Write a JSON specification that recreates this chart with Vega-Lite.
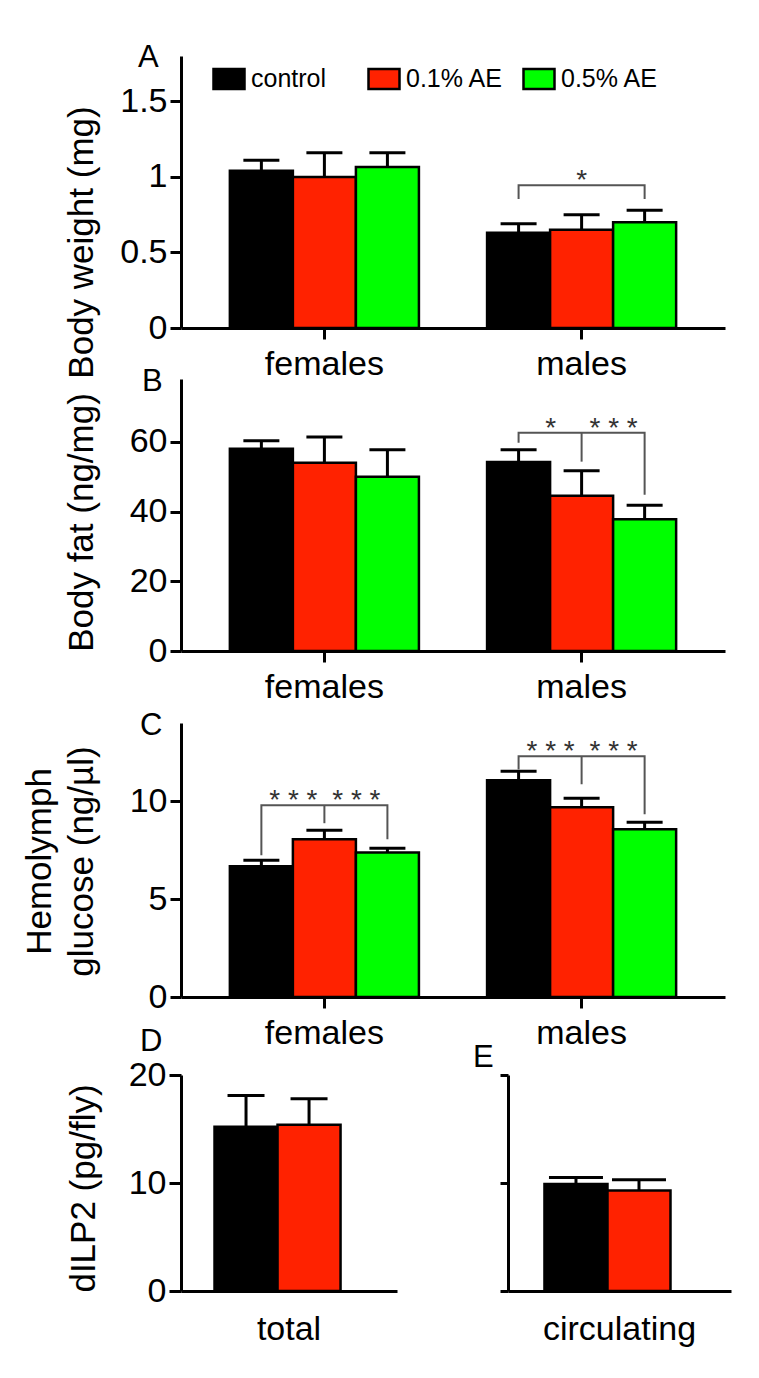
{
  "$schema": "https://vega.github.io/schema/vega-lite/v6.json",
  "background": "white",
  "padding": {"left": 22, "top": 42, "right": 5, "bottom": 5},
  "datasets": {
    "A": [
      {"sex": "females", "group": "control", "mean": 1.04, "upper": 1.11},
      {"sex": "females", "group": "0.1% AE", "mean": 1.0, "upper": 1.16},
      {"sex": "females", "group": "0.5% AE", "mean": 1.065, "upper": 1.16},
      {"sex": "males", "group": "control", "mean": 0.63, "upper": 0.69},
      {"sex": "males", "group": "0.1% AE", "mean": 0.65, "upper": 0.75},
      {"sex": "males", "group": "0.5% AE", "mean": 0.7, "upper": 0.78}
    ],
    "A_br": [
      {"sex": "males", "group": "control", "y": 0.853, "id": 1, "seq": 1},
      {"sex": "males", "group": "control", "y": 0.945, "id": 1, "seq": 2},
      {"sex": "males", "group": "0.5% AE", "y": 0.945, "id": 1, "seq": 3},
      {"sex": "males", "group": "0.5% AE", "y": 0.853, "id": 1, "seq": 4}
    ],
    "A_st": [{"sex": "males", "group": "0.1% AE", "y": 0.945, "label": "*"}],
    "B": [
      {"sex": "females", "group": "control", "mean": 58, "upper": 60.3},
      {"sex": "females", "group": "0.1% AE", "mean": 54, "upper": 61.4},
      {"sex": "females", "group": "0.5% AE", "mean": 50, "upper": 57.7},
      {"sex": "males", "group": "control", "mean": 54.2, "upper": 57.7},
      {"sex": "males", "group": "0.1% AE", "mean": 44.5, "upper": 51.7},
      {"sex": "males", "group": "0.5% AE", "mean": 37.8, "upper": 41.8}
    ],
    "B_br": [
      {"sex": "males", "group": "control", "y": 59.7, "id": 1, "seq": 1},
      {"sex": "males", "group": "control", "y": 62.6, "id": 1, "seq": 2},
      {"sex": "males", "group": "0.5% AE", "y": 62.6, "id": 1, "seq": 3},
      {"sex": "males", "group": "0.5% AE", "y": 44.8, "id": 1, "seq": 4},
      {"sex": "males", "group": "0.1% AE", "y": 62.6, "id": 2, "seq": 1},
      {"sex": "males", "group": "0.1% AE", "y": 54.3, "id": 2, "seq": 2}
    ],
    "B_st": [
      {"sex": "males", "group": "control", "y": 62.6, "label": "*"},
      {"sex": "males", "group": "0.1% AE", "y": 62.6, "label": "* * *"}
    ],
    "C": [
      {"sex": "females", "group": "control", "mean": 6.68, "upper": 6.99},
      {"sex": "females", "group": "0.1% AE", "mean": 8.06, "upper": 8.52},
      {"sex": "females", "group": "0.5% AE", "mean": 7.38, "upper": 7.6},
      {"sex": "males", "group": "control", "mean": 11.07, "upper": 11.53},
      {"sex": "males", "group": "0.1% AE", "mean": 9.69, "upper": 10.15},
      {"sex": "males", "group": "0.5% AE", "mean": 8.57, "upper": 8.93}
    ],
    "C_br": [
      {"sex": "females", "group": "control", "y": 7.24, "id": 1, "seq": 1},
      {"sex": "females", "group": "control", "y": 9.8, "id": 1, "seq": 2},
      {"sex": "females", "group": "0.5% AE", "y": 9.8, "id": 1, "seq": 3},
      {"sex": "females", "group": "0.5% AE", "y": 8.06, "id": 1, "seq": 4},
      {"sex": "females", "group": "0.1% AE", "y": 9.8, "id": 2, "seq": 1},
      {"sex": "females", "group": "0.1% AE", "y": 8.88, "id": 2, "seq": 2},
      {"sex": "males", "group": "control", "y": 11.63, "id": 3, "seq": 1},
      {"sex": "males", "group": "control", "y": 12.3, "id": 3, "seq": 2},
      {"sex": "males", "group": "0.5% AE", "y": 12.3, "id": 3, "seq": 3},
      {"sex": "males", "group": "0.5% AE", "y": 9.34, "id": 3, "seq": 4},
      {"sex": "males", "group": "0.1% AE", "y": 12.3, "id": 4, "seq": 1},
      {"sex": "males", "group": "0.1% AE", "y": 10.87, "id": 4, "seq": 2}
    ],
    "C_st": [
      {"sex": "females", "group": "control", "y": 9.8, "label": "* * *"},
      {"sex": "females", "group": "0.1% AE", "y": 9.8, "label": "* * *"},
      {"sex": "males", "group": "control", "y": 12.3, "label": "* * *"},
      {"sex": "males", "group": "0.1% AE", "y": 12.3, "label": "* * *"}
    ],
    "D": [
      {"sample": "total", "group": "control", "mean": 15.2, "upper": 18.1},
      {"sample": "total", "group": "0.1% AE", "mean": 15.4, "upper": 17.8}
    ],
    "E": [
      {"sample": "circulating", "group": "control", "mean": 9.9, "upper": 10.5},
      {"sample": "circulating", "group": "0.1% AE", "mean": 9.3, "upper": 10.3}
    ]
  },
  "vconcat": [
    {
      "bounds": "flush",
      "spacing": 51,
      "resolve": {"scale": {"color": "independent"}, "legend": {"color": "independent"}},
      "vconcat": [
        {
          "width": 544, "height": 272,
          "title": {"text": "A", "anchor": "start", "frame": "group", "dx": -43, "dy": 42, "offset": 0, "baseline": "alphabetic"},
          "data": {"name": "A"},
          "encoding": {
            "x": {"field": "sex", "type": "nominal", "sort": ["females", "males"], "scale": {"paddingInner": 0.265, "paddingOuter": 0.19}, "axis": {"title": null, "labelAngle": 0, "labelPadding": 8}},
            "xOffset": {"field": "group", "type": "nominal", "sort": ["control", "0.1% AE", "0.5% AE"], "scale": {"paddingInner": 0, "paddingOuter": 0}}
          },
          "layer": [
            {
              "mark": {"type": "bar", "stroke": "#000", "strokeWidth": 2.5},
              "encoding": {
                "y": {"field": "mean", "type": "quantitative", "scale": {"domain": [0, 1.8], "nice": false}, "axis": {"values": [0, 0.5, 1, 1.5], "format": "~g", "title": "Body weight (mg)", "titleX": -89, "titleY": 186, "titleAngle": -90, "titleAlign": "center", "titleBaseline": "alphabetic"}},
                "color": {"field": "group", "type": "nominal", "scale": {"domain": ["control", "0.1% AE", "0.5% AE"], "range": ["#000000", "#FF2200", "#00FF00"]},
                  "legend": {"orient": "none", "legendX": 31, "legendY": 6, "direction": "horizontal", "columns": 3, "gridAlign": "all", "columnPadding": 14, "title": null, "symbolType": "M-1,-0.645L1,-0.645L1,0.645L-1,0.645Z", "symbolSize": 961, "symbolStrokeColor": "#000", "symbolStrokeWidth": 2.5, "symbolOpacity": 1, "labelFontSize": 25, "labelOffset": 5, "labelColor": "#000"}}
              }
            },
            {"mark": {"type": "rule", "strokeWidth": 3, "color": "#000"}, "encoding": {"y": {"field": "mean", "type": "quantitative"}, "y2": {"field": "upper"}}},
            {"mark": {"type": "tick", "thickness": 3, "size": 36, "color": "#000", "opacity": 1}, "encoding": {"y": {"field": "upper", "type": "quantitative"}}},
            {"data": {"name": "A_br"}, "mark": {"type": "line", "color": "#555", "strokeWidth": 2}, "encoding": {"y": {"field": "y", "type": "quantitative"}, "detail": {"field": "id"}, "order": {"field": "seq", "type": "quantitative"}}},
            {"data": {"name": "A_st"}, "mark": {"type": "text", "fontSize": 28, "color": "#333", "baseline": "middle", "dy": -4}, "encoding": {"y": {"field": "y", "type": "quantitative"}, "text": {"field": "label"}}}
          ]
        },
        {
          "width": 544, "height": 272,
          "title": {"text": "B", "anchor": "start", "frame": "group", "dx": -39, "dy": 43, "offset": 0, "baseline": "alphabetic"},
          "data": {"name": "B"},
          "encoding": {
            "x": {"field": "sex", "type": "nominal", "sort": ["females", "males"], "scale": {"paddingInner": 0.265, "paddingOuter": 0.19}, "axis": {"title": null, "labelAngle": 0, "labelPadding": 8}},
            "xOffset": {"field": "group", "type": "nominal", "sort": ["control", "0.1% AE", "0.5% AE"], "scale": {"paddingInner": 0, "paddingOuter": 0}}
          },
          "layer": [
            {
              "mark": {"type": "bar", "stroke": "#000", "strokeWidth": 2.5},
              "encoding": {
                "y": {"field": "mean", "type": "quantitative", "scale": {"domain": [0, 78], "nice": false}, "axis": {"values": [0, 20, 40, 60], "title": "Body fat (ng/mg)", "titleX": -89, "titleY": 143, "titleAngle": -90, "titleAlign": "center", "titleBaseline": "alphabetic"}},
                "color": {"field": "group", "type": "nominal", "scale": {"domain": ["control", "0.1% AE", "0.5% AE"], "range": ["#000000", "#FF2200", "#00FF00"]}, "legend": null}
              }
            },
            {"mark": {"type": "rule", "strokeWidth": 3, "color": "#000"}, "encoding": {"y": {"field": "mean", "type": "quantitative"}, "y2": {"field": "upper"}}},
            {"mark": {"type": "tick", "thickness": 3, "size": 36, "color": "#000", "opacity": 1}, "encoding": {"y": {"field": "upper", "type": "quantitative"}}},
            {"data": {"name": "B_br"}, "mark": {"type": "line", "color": "#555", "strokeWidth": 2}, "encoding": {"y": {"field": "y", "type": "quantitative"}, "detail": {"field": "id"}, "order": {"field": "seq", "type": "quantitative"}}},
            {"data": {"name": "B_st"}, "mark": {"type": "text", "fontSize": 28, "color": "#333", "baseline": "middle", "dx": 32, "dy": -4}, "encoding": {"y": {"field": "y", "type": "quantitative"}, "text": {"field": "label"}}}
          ]
        }
      ]
    },
    {
      "bounds": "flush",
      "spacing": 78,
      "resolve": {"scale": {"color": "independent"}, "legend": {"color": "independent"}},
      "vconcat": [
        {
          "width": 544, "height": 274,
          "title": {"text": "C", "anchor": "start", "frame": "group", "dx": -41, "dy": 43, "offset": 0, "baseline": "alphabetic"},
          "data": {"name": "C"},
          "encoding": {
            "x": {"field": "sex", "type": "nominal", "sort": ["females", "males"], "scale": {"paddingInner": 0.265, "paddingOuter": 0.19}, "axis": {"title": null, "labelAngle": 0, "labelPadding": 8}},
            "xOffset": {"field": "group", "type": "nominal", "sort": ["control", "0.1% AE", "0.5% AE"], "scale": {"paddingInner": 0, "paddingOuter": 0}}
          },
          "layer": [
            {
              "mark": {"type": "bar", "stroke": "#000", "strokeWidth": 2.5},
              "encoding": {
                "y": {"field": "mean", "type": "quantitative", "scale": {"domain": [0, 14], "nice": false}, "axis": {"values": [0, 5, 10], "title": ["Hemolymph", "glucose (ng/µl)"], "titleX": -142, "titleY": 138, "titleAngle": -90, "titleAlign": "center", "titleBaseline": "middle", "titleLineHeight": 42}},
                "color": {"field": "group", "type": "nominal", "scale": {"domain": ["control", "0.1% AE", "0.5% AE"], "range": ["#000000", "#FF2200", "#00FF00"]}, "legend": null}
              }
            },
            {"mark": {"type": "rule", "strokeWidth": 3, "color": "#000"}, "encoding": {"y": {"field": "mean", "type": "quantitative"}, "y2": {"field": "upper"}}},
            {"mark": {"type": "tick", "thickness": 3, "size": 36, "color": "#000", "opacity": 1}, "encoding": {"y": {"field": "upper", "type": "quantitative"}}},
            {"data": {"name": "C_br"}, "mark": {"type": "line", "color": "#555", "strokeWidth": 2}, "encoding": {"y": {"field": "y", "type": "quantitative"}, "detail": {"field": "id"}, "order": {"field": "seq", "type": "quantitative"}}},
            {"data": {"name": "C_st"}, "mark": {"type": "text", "fontSize": 28, "color": "#333", "baseline": "middle", "dx": 32, "dy": -4}, "encoding": {"y": {"field": "y", "type": "quantitative"}, "text": {"field": "label"}}}
          ]
        },
        {
          "bounds": "flush",
          "spacing": 111,
          "resolve": {"scale": {"color": "independent"}, "legend": {"color": "independent"}},
          "hconcat": [
            {
              "width": 216, "height": 216,
              "title": {"text": "D", "anchor": "start", "frame": "group", "dx": -41, "dy": 24, "offset": 0, "baseline": "alphabetic"},
              "data": {"name": "D"},
              "encoding": {
                "x": {"field": "sample", "type": "nominal", "scale": {"paddingInner": 0, "paddingOuter": 0.225}, "axis": {"title": null, "labelAngle": 0, "ticks": false, "tickSize": 0, "labelPadding": 21}},
                "xOffset": {"field": "group", "type": "nominal", "sort": ["control", "0.1% AE", "0.5% AE"], "scale": {"paddingInner": 0, "paddingOuter": 0}}
              },
              "layer": [
                {
                  "mark": {"type": "bar", "stroke": "#000", "strokeWidth": 2.5},
                  "encoding": {
                    "y": {"field": "mean", "type": "quantitative", "scale": {"domain": [0, 20], "nice": false}, "axis": {"values": [0, 10, 20], "tickSize": 12, "title": "dILP2 (pg/fly)", "titleX": -87, "titleY": 113, "titleAngle": -90, "titleAlign": "center", "titleBaseline": "alphabetic"}},
                    "color": {"field": "group", "type": "nominal", "scale": {"domain": ["control", "0.1% AE", "0.5% AE"], "range": ["#000000", "#FF2200", "#00FF00"]}, "legend": null}
                  }
                },
                {"mark": {"type": "rule", "strokeWidth": 3, "color": "#000"}, "encoding": {"y": {"field": "mean", "type": "quantitative"}, "y2": {"field": "upper"}}},
                {"mark": {"type": "tick", "thickness": 3, "size": 37, "color": "#000", "opacity": 1}, "encoding": {"y": {"field": "upper", "type": "quantitative"}}}
              ]
            },
            {
              "width": 223, "height": 216,
              "title": {"text": "E", "anchor": "start", "frame": "group", "dx": -35, "dy": 24, "offset": 0, "baseline": "alphabetic"},
              "data": {"name": "E"},
              "encoding": {
                "x": {"field": "sample", "type": "nominal", "scale": {"paddingInner": 0, "paddingOuter": 0.243}, "axis": {"title": null, "labelAngle": 0, "ticks": false, "tickSize": 0, "labelPadding": 21}},
                "xOffset": {"field": "group", "type": "nominal", "sort": ["control", "0.1% AE", "0.5% AE"], "scale": {"paddingInner": 0, "paddingOuter": 0}}
              },
              "layer": [
                {
                  "mark": {"type": "bar", "stroke": "#000", "strokeWidth": 2.5},
                  "encoding": {
                    "y": {"field": "mean", "type": "quantitative", "scale": {"domain": [0, 20], "nice": false}, "axis": {"values": [0, 10, 20], "labels": false, "tickSize": 8, "title": null}},
                    "color": {"field": "group", "type": "nominal", "scale": {"domain": ["control", "0.1% AE", "0.5% AE"], "range": ["#000000", "#FF2200", "#00FF00"]}, "legend": null}
                  }
                },
                {"mark": {"type": "rule", "strokeWidth": 3, "color": "#000"}, "encoding": {"y": {"field": "mean", "type": "quantitative"}, "y2": {"field": "upper"}}},
                {"mark": {"type": "tick", "thickness": 3, "size": 54, "color": "#000", "opacity": 1}, "encoding": {"y": {"field": "upper", "type": "quantitative"}}}
              ]
            }
          ]
        }
      ]
    }
  ],
  "spacing": 6,
  "bounds": "full",
  "resolve": {"scale": {"color": "independent"}, "legend": {"color": "independent"}},
  "config": {
    "font": "Liberation Sans",
    "view": {"stroke": null},
    "axis": {"domainColor": "#000", "domainWidth": 3, "tickColor": "#000", "tickWidth": 3, "tickSize": 11, "labelColor": "#000", "labelFontSize": 34, "labelPadding": 3, "titleFontSize": 35, "titleFontWeight": "normal", "titleColor": "#000", "grid": false},
    "title": {"fontSize": 31, "fontWeight": "normal", "color": "#000"},
    "legend": {"labelFont": "Liberation Sans"}
  }
}
